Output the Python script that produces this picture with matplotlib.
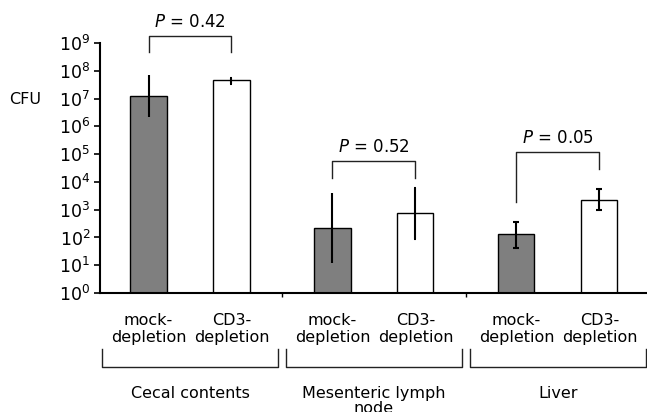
import matplotlib.pyplot as plt
import numpy as np
from matplotlib.transforms import blended_transform_factory

groups = ['Cecal contents', 'Mesenteric lymph\nnode', 'Liver']
treatments = ['mock-\ndepletion', 'CD3-\ndepletion']
mock_cfu = [1.2e7, 2.2e2, 1.3e2]
mock_low = [2.1e6, 12, 43]
mock_high = [6.9e7, 3.9e3, 3.7e2]
cd3_cfu = [4.6e7, 7.5e2, 2.3e3]
cd3_low = [3.3e7, 90, 940]
cd3_high = [5.4e7, 6.1e3, 5.5e3]
p_values = ['0.42', '0.52', '0.05']

fig = plt.figure(figsize=(6.47, 4.12), dpi=100)
ax = fig.add_axes([0.1546, 0.2888, 0.8454, 0.6068])

x = np.arange(len(groups))
off = 0.2255
w = 0.196
fs = 11.5

ax.bar(x - off, mock_cfu, w, color='#7f7f7f', edgecolor='black', linewidth=1)
ax.bar(x + off, cd3_cfu, w, color='white', edgecolor='black', linewidth=1)

caps = [0, 0, 2.5]
for i in range(len(groups)):
    ax.errorbar(x[i] - off, mock_cfu[i],
                yerr=[[mock_cfu[i] - mock_low[i]], [mock_high[i] - mock_cfu[i]]],
                fmt='none', ecolor='black', elinewidth=1.5, capsize=caps[i], capthick=1.5)
    ax.errorbar(x[i] + off, cd3_cfu[i],
                yerr=[[cd3_cfu[i] - cd3_low[i]], [cd3_high[i] - cd3_cfu[i]]],
                fmt='none', ecolor='black', elinewidth=1.5, capsize=max(caps[i], 1), capthick=1.5)

ax.set_yscale('log')
ax.set_ylim(1, 1e9)
ax.set_xlim(-0.489, 2.484)
ax.set_yticks([10.0 ** k for k in range(10)])
ax.minorticks_off()
ax.tick_params(axis='y', labelsize=12.5, length=4, width=1.2, pad=3)
ax.set_xticks([0.5, 1.5])
ax.set_xticklabels(['', ''])
ax.tick_params(axis='x', length=3, width=1)
for s in ['top', 'right']:
    ax.spines[s].set_visible(False)
ax.spines['left'].set_linewidth(1.5)
ax.spines['bottom'].set_linewidth(1.5)

# significance brackets (log10 heights)
br_top = [9.24, 4.75, 5.07]
br_left = [8.67, 4.14, 3.27]
br_right = [8.67, 4.14, 4.46]
for i in range(len(groups)):
    xl, xr = x[i] - off, x[i] + off
    ax.plot([xl, xl, xr, xr],
            [10 ** br_left[i], 10 ** br_top[i], 10 ** br_top[i], 10 ** br_right[i]],
            color='#222222', lw=1, clip_on=False)
    ax.text(x[i], 10 ** (br_top[i] + 0.52), '$P$ = ' + p_values[i],
            ha='center', va='center', fontsize=fs + 0.5, clip_on=False)

# category labels and group brackets below axis
trans = blended_transform_factory(ax.transData, ax.transAxes)
for i in range(len(groups)):
    ax.text(x[i] - off, -0.08, treatments[0], transform=trans,
            ha='center', va='top', fontsize=fs)
    ax.text(x[i] + off, -0.08, treatments[1], transform=trans,
            ha='center', va='top', fontsize=fs)
    ax.plot([x[i] - 0.48, x[i] - 0.48, x[i] + 0.48, x[i] + 0.48],
            [-0.224, -0.296, -0.296, -0.224], transform=trans,
            color='#222222', lw=1, clip_on=False)
    ax.text(x[i], -0.37, groups[i], transform=trans,
            ha='center', va='top', fontsize=fs, linespacing=1.05)

fig.text(25 / 647, 1 - 99 / 412, 'CFU', ha='center', va='center', fontsize=fs)

fig.savefig('out.png', dpi=100)
